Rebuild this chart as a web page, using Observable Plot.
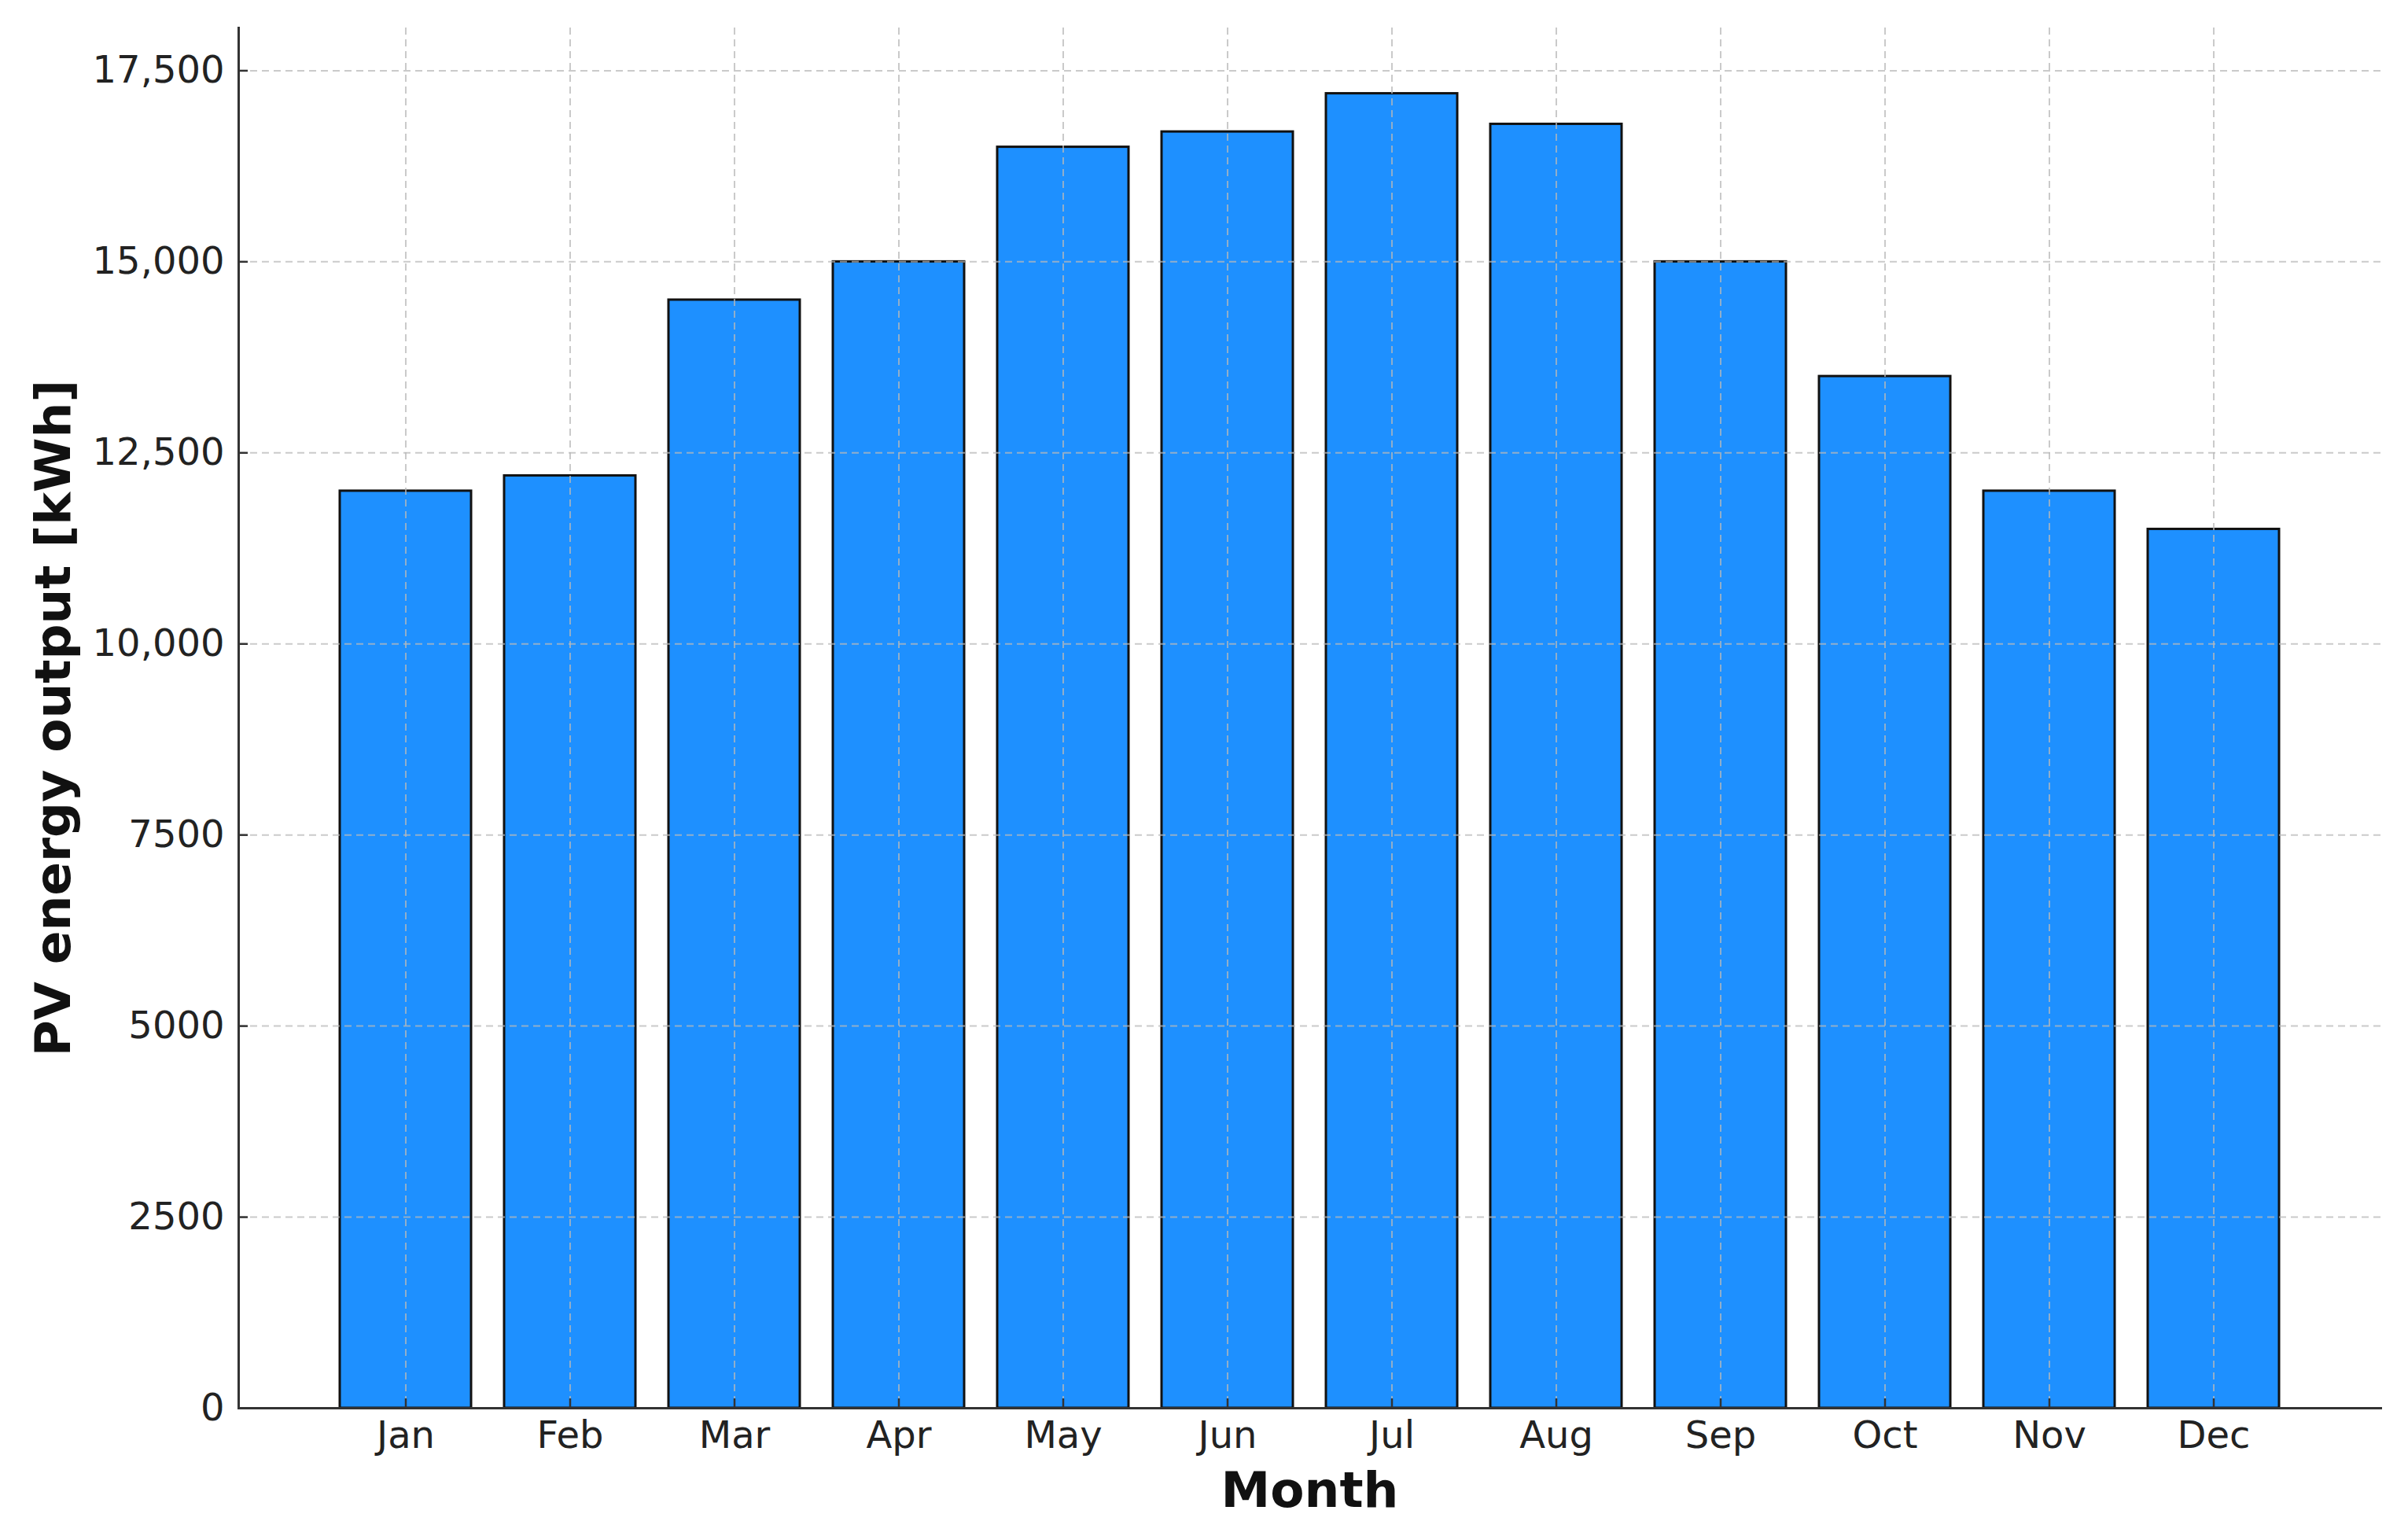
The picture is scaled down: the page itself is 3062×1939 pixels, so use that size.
<!DOCTYPE html>
<html><head><meta charset="utf-8">
<script src="https://cdn.jsdelivr.net/npm/d3@7"></script>
<script src="https://cdn.jsdelivr.net/npm/@observablehq/plot@0.6"></script>
<style>html,body{margin:0;padding:0;background:#fff}</style>
</head><body><div id="chart"></div>
<script>
const months = ["Jan", "Feb", "Mar", "Apr", "May", "Jun", "Jul", "Aug", "Sep", "Oct", "Nov", "Dec"];
const output = [12000, 12200, 14500, 15000, 16500, 16700, 17200, 16800, 15000, 13500, 12000, 11500];
const yTicks = [0, 2500, 5000, 7500, 10000, 12500, 15000, 17500];
const yLabel = "PV energy output [kWh]";
const xLabel = "Month";

const data = months.map((m, i) => ({month: m, value: output[i]}));
const fmt = d => d >= 10000 ? d3.format(",")(d) : String(d);
const gridStyle = {stroke: "#b8b8b8", strokeOpacity: 0.75, strokeWidth: 2, strokeDasharray: "9,6"};
const axisColor = "#333";

const chart = Plot.plot({
  width: 3062, height: 1939,
  marginLeft: 303, marginRight: 35, marginTop: 35, marginBottom: 149,
  style: {fontFamily: "DejaVu Sans", background: "#fff", color: "#222", overflow: "visible"},
  x: {domain: months, type: "band", paddingInner: 0.2, paddingOuter: 0.59, label: null, axis: null},
  y: {domain: [0, 18060], label: null, axis: null},
  marks: [
    Plot.barY(data, {x: "month", y: "value", fill: "#1E90FF", stroke: "#111", strokeWidth: 3}),
    Plot.gridY(yTicks, gridStyle),
    Plot.gridX(months, gridStyle),
    Plot.axisY(yTicks, {tickSize: 12, dx: 12, fill: "none", label: null, stroke: axisColor, strokeWidth: 2.5}),
    Plot.axisY(yTicks, {tickSize: 0, tickPadding: 18, tickFormat: fmt, fontSize: 48, fill: "#222", label: null}),
    Plot.axisX(months, {tickSize: 12, dy: -12, fill: "none", label: null, stroke: axisColor, strokeWidth: 2.5}),
    Plot.axisX(months, {tickSize: 0, tickPadding: 16, fontSize: 48, fill: "#222", label: null}),
    Plot.frame({anchor: "left", stroke: axisColor, strokeWidth: 3}),
    Plot.frame({anchor: "bottom", stroke: axisColor, strokeWidth: 3}),
    Plot.text([yLabel], {frameAnchor: "left", rotate: -90, dx: -235, textAnchor: "middle", lineAnchor: "middle", fontSize: 63, fontWeight: "bold", fill: "#111"}),
    Plot.text([xLabel], {frameAnchor: "bottom", dy: 105, textAnchor: "middle", lineAnchor: "middle", fontSize: 63, fontWeight: "bold", fill: "#111"})
  ]
});
document.getElementById("chart").appendChild(chart);
</script>
</body></html>
